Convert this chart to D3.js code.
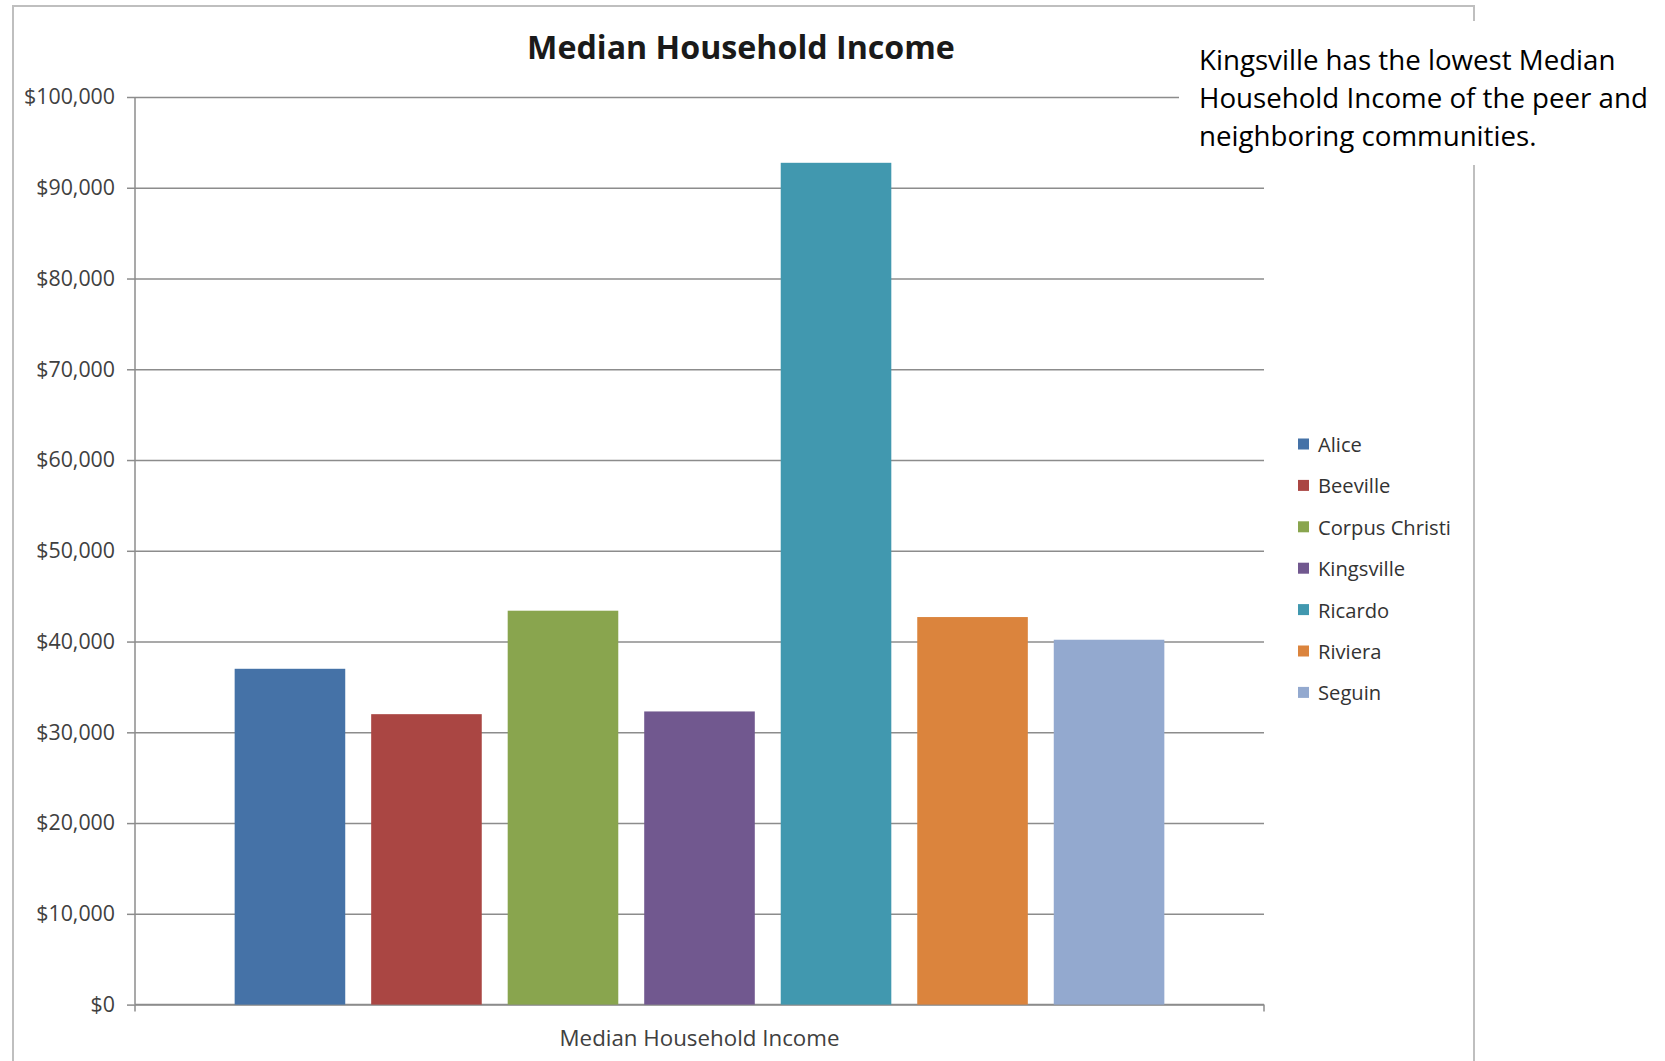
<!DOCTYPE html>
<html>
<head>
<meta charset="utf-8">
<script src="https://cdn.jsdelivr.net/npm/d3@7"></script>
<style>
  html, body { margin: 0; padding: 0; background: #fff; }
  svg { display: block; }
</style>
</head>
<body>
<svg id="chart" width="1665" height="1061"></svg>
<script>
// ---- data ----
const seriesNames = ["Alice", "Beeville", "Corpus Christi", "Kingsville", "Ricardo", "Riviera", "Seguin"];
const seriesValues = [37000, 32000, 43400, 32300, 92750, 42700, 40200];
const seriesColors = ["#4572A7", "#AA4643", "#89A54E", "#71588F", "#4198AF", "#DB843D", "#93A9CF"];
const categoryLabel = "Median Household Income";
const yTickValues = [0, 10000, 20000, 30000, 40000, 50000, 60000, 70000, 80000, 90000, 100000];
const chartTitle = "Median Household Income";
const noteLines = ["Kingsville has the lowest Median", "Household Income of the peer and", "neighboring communities."];

const FONT = "'Open Sans', 'DejaVu Sans', sans-serif";
const svg = d3.select("#chart");

function fitText(sel, targetWidth) {
  const node = sel.node();
  const fs = parseFloat(sel.attr("font-size"));
  const w = node.getComputedTextLength();
  if (w > 0) sel.attr("font-size", (fs * targetWidth / w).toFixed(2));
  return sel;
}

// outer border
svg.append("rect")
  .attr("x", 13).attr("y", 6).attr("width", 1461).attr("height", 1070)
  .attr("fill", "#fff").attr("stroke", "#bfbfbf").attr("stroke-width", 2);

// plot area
const plot = { left: 135, right: 1264, top: 97, bottom: 1004.6 };

const y = d3.scaleLinear().domain([0, 100000]).range([plot.bottom, plot.top]);
const x = d3.scaleBand().domain(seriesNames)
  .range([plot.left, plot.right]).paddingInner(0.19).paddingOuter(0.73);

// gridlines + y axis
const yAxis = d3.axisLeft(y).tickValues(yTickValues)
  .tickFormat(d => "$" + d3.format(",")(d))
  .tickSize(-(plot.right - plot.left)).tickPadding(20);

const gy = svg.append("g").attr("transform", `translate(${plot.left},0)`).call(yAxis);
gy.select(".domain").remove();
gy.selectAll(".tick line").attr("stroke", "#8c8c8c").attr("stroke-width", 1.5);
gy.selectAll(".tick").append("line")
  .attr("x1", -8).attr("x2", 0).attr("stroke", "#8c8c8c").attr("stroke-width", 1.5);
gy.selectAll(".tick text")
  .attr("font-family", FONT).attr("font-size", 17).attr("fill", "#404040")
  .attr("x", -20);
const maxLbl = gy.selectAll(".tick text").filter(d => d === 100000);
const w0 = maxLbl.node().getComputedTextLength();
gy.selectAll(".tick text").attr("font-size", (17 * 91 / w0).toFixed(2));

// y axis line
svg.append("line")
  .attr("x1", plot.left).attr("x2", plot.left)
  .attr("y1", plot.top).attr("y2", plot.bottom)
  .attr("stroke", "#8c8c8c").attr("stroke-width", 1.5);

// x axis line with end ticks
svg.append("line")
  .attr("x1", plot.left).attr("x2", plot.right)
  .attr("y1", y(0)).attr("y2", y(0))
  .attr("stroke", "#8c8c8c").attr("stroke-width", 1.5);
[plot.left, plot.right].forEach(px => {
  svg.append("line").attr("x1", px).attr("x2", px)
    .attr("y1", y(0)).attr("y2", y(0) + 7)
    .attr("stroke", "#8c8c8c").attr("stroke-width", 1.5);
});

// bars
svg.append("g").selectAll("rect")
  .data(seriesNames.map((n, i) => ({ name: n, value: seriesValues[i], color: seriesColors[i] })))
  .join("rect")
  .attr("x", d => x(d.name))
  .attr("y", d => y(d.value))
  .attr("width", x.bandwidth())
  .attr("height", d => y(0) - y(d.value))
  .attr("fill", d => d.color);

// x category label
const xl = svg.append("text")
  .attr("x", (plot.left + plot.right) / 2).attr("y", 1037)
  .attr("text-anchor", "middle").attr("dominant-baseline", "central")
  .attr("font-family", FONT).attr("font-size", 19).attr("fill", "#404040")
  .text(categoryLabel);
fitText(xl, 280);

// title
const tt = svg.append("text")
  .attr("x", 741).attr("y", 46)
  .attr("text-anchor", "middle").attr("dominant-baseline", "central")
  .attr("font-family", FONT).attr("font-weight", "bold").attr("font-size", 30).attr("fill", "#1a1a1a")
  .text(chartTitle);
fitText(tt, 428);

// legend
const legendY0 = 444, legendStep = 41.4;
const lg = svg.append("g");
const items = lg.selectAll("g").data(seriesNames).join("g")
  .attr("transform", (d, i) => `translate(1298,${legendY0 + i * legendStep})`);
items.append("rect").attr("x", 0).attr("y", -5.5).attr("width", 11).attr("height", 11)
  .attr("fill", (d, i) => seriesColors[i]);
const ltexts = items.append("text").attr("x", 20).attr("y", 0)
  .attr("dominant-baseline", "central")
  .attr("font-family", FONT).attr("font-size", 18).attr("font-weight", 500).attr("fill", "#333")
  .text(d => d);
{
  const cc = ltexts.filter(d => d === "Corpus Christi");
  const w = cc.node().getComputedTextLength();
  ltexts.attr("font-size", (18 * 133 / w).toFixed(2));
}

// annotation box
svg.append("rect").attr("x", 1179).attr("y", 21).attr("width", 486).attr("height", 144).attr("fill", "#fff");
const notes = svg.append("g").selectAll("text").data(noteLines).join("text")
  .attr("x", 1199).attr("y", (d, i) => 58.5 + i * 38.2)
  .attr("dominant-baseline", "central")
  .attr("font-family", FONT).attr("font-size", 24).attr("fill", "#000")
  .text(d => d);
{
  const ref = notes.filter((d, i) => i === 1);
  const w = ref.node().getComputedTextLength();
  notes.attr("font-size", (24 * 449 / w).toFixed(2));
}
</script>
</body>
</html>
